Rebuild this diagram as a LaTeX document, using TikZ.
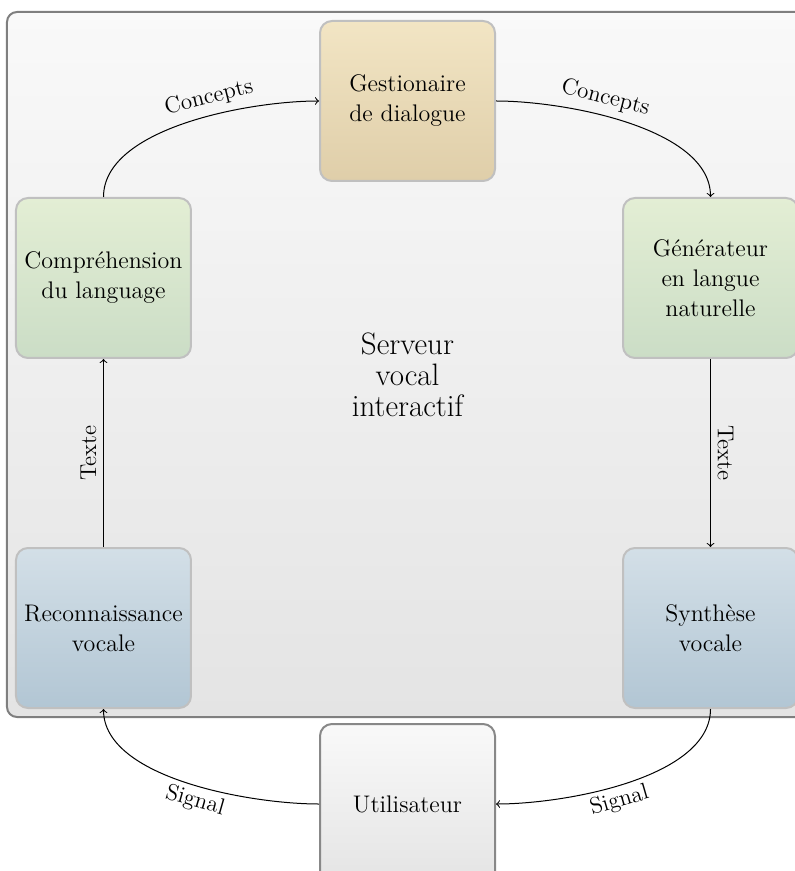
\documentclass[tikz,border=0pt]{standalone}
\usepackage{tikz}
\usetikzlibrary{positioning}
\usetikzlibrary{fit}
\usetikzlibrary{backgrounds}

\definecolor{gestTop}{HTML}{F2E5C4}
\definecolor{gestBot}{HTML}{DFCEA9}
\definecolor{langTop}{HTML}{E3EED4}
\definecolor{langBot}{HTML}{CBDDC6}
\definecolor{vocTop}{HTML}{D3DFE7}
\definecolor{vocBot}{HTML}{B2C6D4}
\definecolor{greyTop}{HTML}{F9F9F9}
\definecolor{greyBot}{HTML}{E4E4E4}
\definecolor{boxline}{HTML}{C0C0C0}
\definecolor{userline}{HTML}{888888}
\definecolor{outline}{HTML}{7F7F7F}

\begin{document}
\begin{tikzpicture}[-> , >= to, line width =0.5 pt,
        box/.style={rectangle, rounded corners=6pt, draw=boxline, line width=1pt,
            minimum width=87.5pt, minimum height=80pt, align=center,
            font=\fontsize{12}{15}\selectfont},
        lang/.style={box, top color=langTop, bottom color=langBot},
        voc/.style={box, top color=vocTop, bottom color=vocBot},
        lbl/.style={font=\fontsize{11.5}{13}\selectfont}]
            \useasboundingbox (-203.75pt,50.5pt) rectangle (193.75pt,-385pt);

            \node [box, top color=gestTop, bottom color=gestBot] (gest) {Gestionaire\\de dialogue};
            \node [lang, below left=7.5pt and 63.5pt of gest] (compr) {Compréhension\\du language};
            \node [lang, below right=7.5pt and 63pt of gest] (gen) {Générateur\\en langue\\naturelle};
            \node [voc, below=94pt of compr] (reco) {Reconnaissance\\vocale};
            \node [voc, below=94pt of gen] (synth) {Synthèse\\vocale};
            \node [box, draw=userline, top color=greyTop, bottom color=greyBot,
                below right=7pt and 63.5pt of reco] (util) {Utilisateur};
            \node [align=center, font=\fontsize{15.5}{15.5}\selectfont,
                below=72pt of gest] (server) {Serveur\\vocal\\interactif};

            \begin{scope}[on background layer]
                \node [fit=(gest)(compr)(gen)(reco)(synth), inner sep=4pt,
                    rounded corners=5pt, draw=outline, line width=1pt,
                    top color=greyTop, bottom color=greyBot] (vis) {};
            \end{scope}

            \path (compr.north) edge [out=90, in=180, looseness=0.75]
                node [lbl, above, sloped, pos=0.6] {Concepts} (gest.west);
            \path (gest.east) edge [out=0, in=90, looseness=0.75]
                node [lbl, above, sloped, pos=0.4] {Concepts} (gen.north);
            \path (gen) edge node [lbl, above, sloped] {Texte} (synth);
            \path (reco) edge node [lbl, above, sloped] {Texte} (compr);
            \path (synth.south) edge [out=-90, in=0, looseness=0.75]
                node [lbl, below, sloped, pos=0.55, inner sep=2pt] {Signal} (util.east);
            \path (util.west) edge [out=180, in=-90, looseness=0.75]
                node [lbl, below, sloped, pos=0.45, inner sep=2pt] {Signal} (reco.south);
        \end{tikzpicture}
\end{document}
